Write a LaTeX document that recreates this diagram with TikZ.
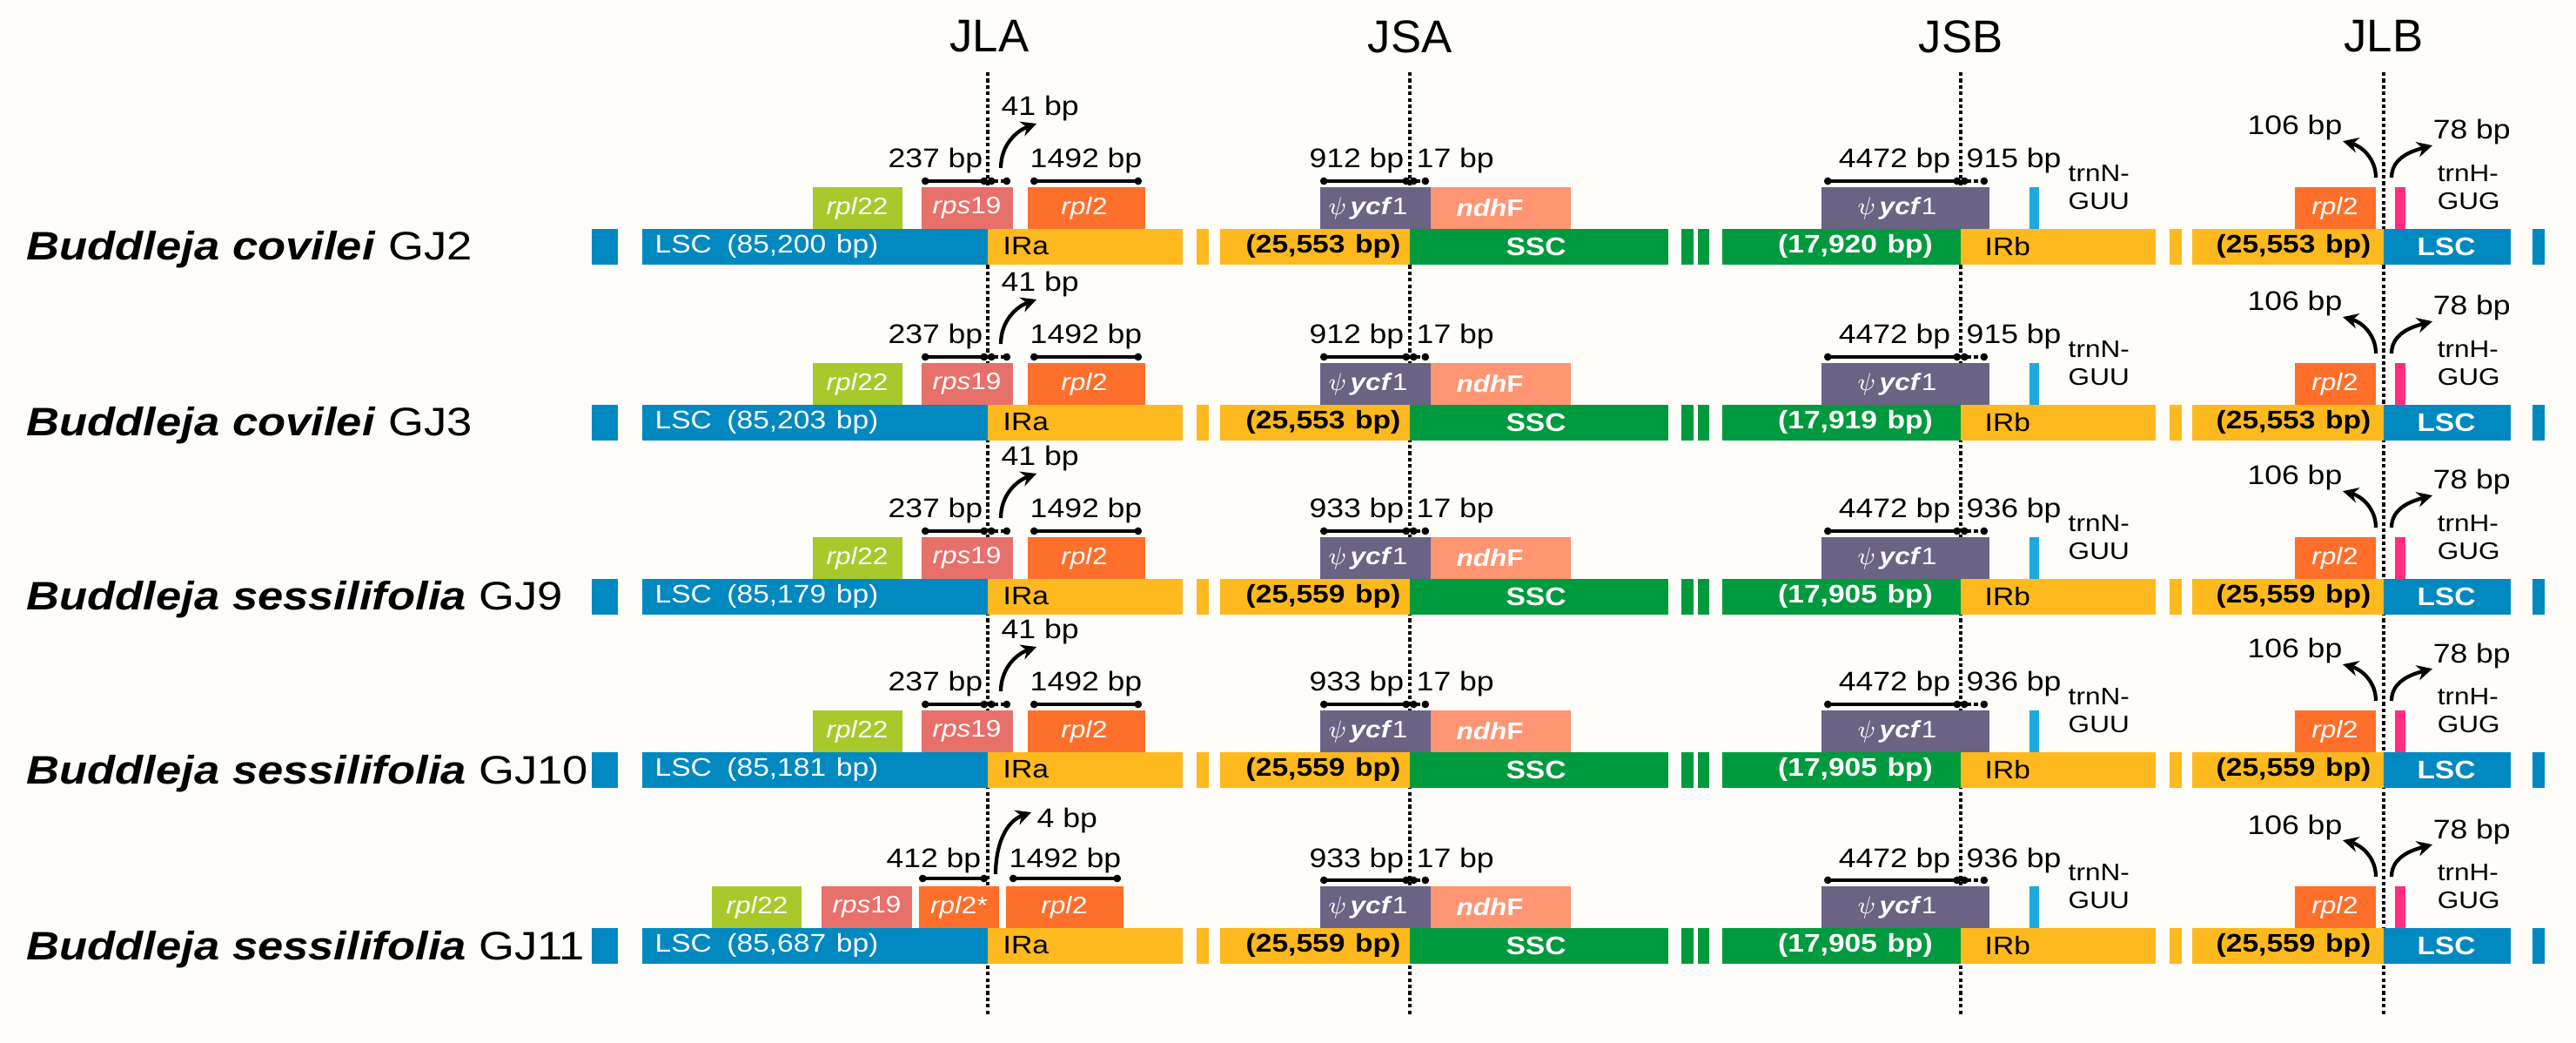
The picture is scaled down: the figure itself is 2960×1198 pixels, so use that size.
\documentclass[tikz,border=0pt]{standalone}
\usepackage{fontspec}
\setmainfont{Liberation Sans}
\newfontfamily\widefont[FakeStretch=1.15]{Liberation Sans}
\usetikzlibrary{arrows.meta}

\definecolor{lscblue}{RGB}{0,137,192}
\definecolor{iryellow}{RGB}{253,185,30}
\definecolor{sscgreen}{RGB}{0,154,62}
\definecolor{rplgreen}{RGB}{168,201,44}
\definecolor{rpssalmon}{RGB}{232,112,106}
\definecolor{rplorange}{RGB}{255,111,44}
\definecolor{ycfpurple}{RGB}{106,99,132}
\definecolor{ndhpeach}{RGB}{255,149,115}
\definecolor{trnnblue}{RGB}{30,169,220}
\definecolor{trnhpink}{RGB}{255,46,126}
\definecolor{paper}{RGB}{254,253,250}

\tikzset{
  header/.style={font=\fontsize{15}{16}\selectfont},
  species/.style={font=\widefont\fontsize{13}{15}\selectfont, anchor=base west, inner sep=0pt},
  bartext/.style={font=\widefont\fontsize{8.3}{9}\selectfont, inner sep=0pt},
  barbold/.style={font=\widefont\bfseries\fontsize{8.3}{9}\selectfont, inner sep=0pt},
  genetext/.style={text=white, font=\widefont\fontsize{7.8}{9}\selectfont, inner sep=0pt},
  bptext/.style={font=\widefont\fontsize{8.8}{10}\selectfont, inner sep=0pt, anchor=base},
  trntext/.style={font=\widefont\fontsize{7.8}{9}\selectfont, align=left, inner sep=0pt, anchor=west},
  span/.style={line width=1pt, {Circle[length=2.4pt]}-{Circle[length=2.4pt]}},
  spanshort/.style={span, dash pattern=on 1.4pt off 1pt},
  bparrow/.style={line width=1.2pt, -{Stealth[length=5pt,width=5pt]}},
  junction/.style={line width=1pt, dash pattern=on 1.2pt off 0.9pt},
}

% one genome row: #1 y, #2 species, #3 sample, #4 LSC, #5 IR, #6 SSC,
% #7 ycf1 left of JSA, #8 ycf1 right of JSB
\newcommand{\genomerow}[8]{%
\begin{scope}[shift={(0,#1)}]
  % regions
  \fill[lscblue] (680,-20) rectangle (710,21);
  \fill[lscblue] (738,-20) rectangle (1135,21);
  \fill[iryellow] (1135,-20) rectangle (1359,21);
  \fill[iryellow] (1375,-20) rectangle (1389,21);
  \fill[iryellow] (1402,-20) rectangle (1620,21);
  \fill[sscgreen] (1620,-20) rectangle (1917,21);
  \fill[sscgreen] (1932,-20) rectangle (1946,21);
  \fill[sscgreen] (1951,-20) rectangle (1964,21);
  \fill[sscgreen] (1979,-20) rectangle (2253,21);
  \fill[iryellow] (2253,-20) rectangle (2477,21);
  \fill[iryellow] (2493,-20) rectangle (2507,21);
  \fill[iryellow] (2519,-20) rectangle (2739,21);
  \fill[lscblue] (2739,-20) rectangle (2885,21);
  \fill[lscblue] (2910,-20) rectangle (2924,21);
  \node[species] (name-#3) at (30,16) {\textbf{\textit{Buddleja #2}} #3};
  \node[bartext, text=white, anchor=west] (lsc-#3) at (752,0) {LSC\hspace{0.6em}(#4\hspace{0.4em}bp)};
  \node[bartext, anchor=west] (ira-#3) at (1152,0) {IRa};
  \node[barbold, anchor=east] (irasize-#3) at (1610,0) {(#5\hspace{0.4em}bp)};
  \node[barbold, text=white] (ssc-#3) at (1765,0) {SSC};
  \node[barbold, text=white] (sscsize-#3) at (2132,0) {(#6\hspace{0.4em}bp)};
  \node[bartext, anchor=west] (irb-#3) at (2280,0) {IRb};
  \node[barbold, anchor=east] (irbsize-#3) at (2725,0) {(#5\hspace{0.4em}bp)};
  \node[barbold, text=white] (lscb-#3) at (2811,0) {LSC};
  % genes at JSA and JSB
  \fill[ycfpurple] (1517,-68) rectangle (1644,-20);
  \node[genetext] (ycfa-#3) at (1572,-44) {$\psi$\,\textbf{\textit{ycf}}1};
  \fill[ndhpeach] (1644,-68) rectangle (1805,-20);
  \node[genetext] (ndh-#3) at (1712,-44) {\textbf{\textit{ndh}F}};
  \fill[ycfpurple] (2093,-68) rectangle (2286,-20);
  \node[genetext] (ycfb-#3) at (2180,-44) {$\psi$\,\textbf{\textit{ycf}}1};
  \fill[trnnblue] (2332,-68) rectangle (2343,-20);
  \node[trntext] (trnn-#3) at (2376,-68) {trnN-\\GUU};
  \fill[rplorange] (2637,-68) rectangle (2730,-20);
  \node[genetext] (rplb-#3) at (2683,-44) {\textit{rpl}2};
  \fill[trnhpink] (2752,-68) rectangle (2764,-20);
  \node[trntext] (trnh-#3) at (2800,-68) {trnH-\\GUG};
  % spans
  \coordinate (ycfal-#3) at (1517,-75);
  \coordinate (jsa-#3) at (1620,-75);
  \coordinate (ycfar-#3) at (1642,-75);
  \draw[span] (ycfal-#3) -- (jsa-#3);
  \draw[spanshort] (jsa-#3) -- (ycfar-#3);
  \node[bptext, anchor=base east] (bpa-#3) at (1614,-90) {#7 bp};
  \node[bptext, anchor=base west] (bpb-#3) at (1627,-90) {17 bp};
  \coordinate (ycfbl-#3) at (2096,-75);
  \coordinate (jsb-#3) at (2253,-75);
  \coordinate (ycfbr-#3) at (2284,-75);
  \draw[span] (ycfbl-#3) -- (jsb-#3);
  \draw[spanshort] (jsb-#3) -- (ycfbr-#3);
  \node[bptext, anchor=base east] (bpc-#3) at (2242,-90) {4472 bp};
  \node[bptext, anchor=base west] (bpd-#3) at (2259,-90) {#8 bp};
  % JLB arrows
  \coordinate (jlbl-#3) at (2730,-79);
  \coordinate (jlbr-#3) at (2748,-79);
  \node[bptext, anchor=base east] (bpe-#3) at (2692,-128) {106 bp};
  \node[bptext, anchor=base west] (bpf-#3) at (2795,-123) {78 bp};
  \draw[bparrow] (jlbl-#3) to[out=90,in=-15] (bpe-#3.south east);
  \draw[bparrow] (jlbr-#3) to[out=90,in=195] (bpf-#3.south west);
\end{scope}}

% genes at JLA, rows with rps19 across the junction
\newcommand{\jlagenes}[2]{%
\begin{scope}[shift={(0,#1)}]
  \fill[rplgreen] (934,-68) rectangle (1037,-20);
  \node[genetext] (rplc-#2) at (985,-44) {\textit{rpl}22};
  \fill[rpssalmon] (1059,-68) rectangle (1164,-20);
  \node[genetext] (rps-#2) at (1111,-44) {\textit{rps}19};
  \fill[rplorange] (1181,-68) rectangle (1316,-20);
  \node[genetext] (rpla-#2) at (1246,-44) {\textit{rpl}2};
  \coordinate (rpsl-#2) at (1059,-75);
  \coordinate (jla-#2) at (1135,-75);
  \coordinate (rpsr-#2) at (1161,-75);
  \coordinate (rplal-#2) at (1184,-75);
  \coordinate (rplar-#2) at (1312,-75);
  \coordinate (bend-#2) at (1150,-90);
  \draw[span] (rpsl-#2) -- (jla-#2);
  \draw[spanshort] (jla-#2) -- (rpsr-#2);
  \draw[span] (rplal-#2) -- (rplar-#2);
  \node[bptext, anchor=base east] (bpg-#2) at (1130,-90) {237 bp};
  \node[bptext] (bph-#2) at (1248,-90) {1492 bp};
  \node[bptext, anchor=base west] (bpi-#2) at (1150,-150) {41 bp};
  \draw[bparrow] (bend-#2) to[out=90,in=200] (1191,-141);
\end{scope}}

\begin{document}
\begin{tikzpicture}[x=0.1mm, y=-0.1mm]
  \fill[paper] (0,0) rectangle (2960,1198);
  % junction headers and lines
  \node[header] (JLA) at (1137,42) {JLA};
  \node[header] (JSA) at (1620,42) {JSA};
  \node[header] (JSB) at (2253,42) {JSB};
  \node[header] (JLB) at (2739,42) {JLB};
  \foreach \j/\x in {JLA/1135, JSA/1620, JSB/2253, JLB/2739} {
    \coordinate (\j-end) at (\x,1167);
    \draw[junction] (\x,83) -- (\j-end);
  }
  % rows
  \genomerow{283}{covilei}{GJ2}{85,200}{25,553}{17,920}{912}{915}
  \jlagenes{283}{GJ2}
  \genomerow{485}{covilei}{GJ3}{85,203}{25,553}{17,919}{912}{915}
  \jlagenes{485}{GJ3}
  \genomerow{685}{sessilifolia}{GJ9}{85,179}{25,559}{17,905}{933}{936}
  \jlagenes{685}{GJ9}
  \genomerow{884}{sessilifolia}{GJ10}{85,181}{25,559}{17,905}{933}{936}
  \jlagenes{884}{GJ10}
  \genomerow{1086}{sessilifolia}{GJ11}{85,687}{25,559}{17,905}{933}{936}
  % GJ11 has rpl2* at JLA
  \begin{scope}[shift={(0,1086)}]
    \fill[rplgreen] (818,-68) rectangle (921,-20);
    \node[genetext] (rplc-GJ11) at (870,-44) {\textit{rpl}22};
    \fill[rpssalmon] (944,-68) rectangle (1048,-20);
    \node[genetext] (rps-GJ11) at (996,-44) {\textit{rps}19};
    \fill[rplorange] (1056,-68) rectangle (1148,-20);
    \node[genetext] (rplstar-GJ11) at (1102,-44) {\textit{rpl}2*};
    \fill[rplorange] (1156,-68) rectangle (1291,-20);
    \node[genetext] (rpla-GJ11) at (1223,-44) {\textit{rpl}2};
    \coordinate (rplsl-GJ11) at (1056,-77);
    \coordinate (jla-GJ11) at (1135,-77);
    \coordinate (rplal-GJ11) at (1160,-77);
    \coordinate (rplar-GJ11) at (1288,-77);
    \coordinate (bend-GJ11) at (1144,-82);
    \draw[span] (rplsl-GJ11) -- (jla-GJ11);
    \draw[span] (rplal-GJ11) -- (rplar-GJ11);
    \node[bptext, anchor=base east] (bpg-GJ11) at (1128,-90) {412 bp};
    \node[bptext] (bph-GJ11) at (1224,-90) {1492 bp};
    \node[bptext, anchor=base west] (bpi-GJ11) at (1191,-136) {4 bp};
    \draw[bparrow] (bend-GJ11) to[out=90,in=200] (1185,-153);
  \end{scope}
\end{tikzpicture}
\end{document}
